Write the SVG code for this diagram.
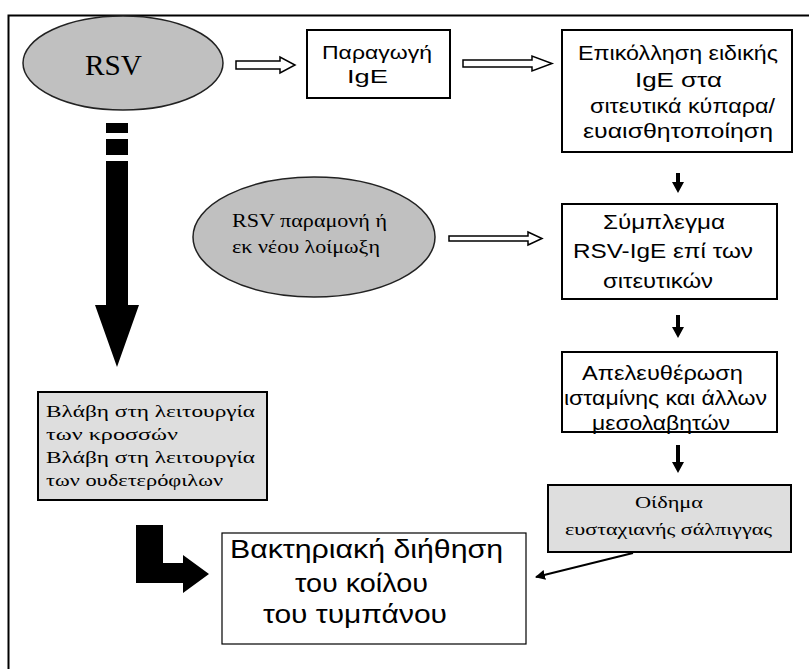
<svg xmlns="http://www.w3.org/2000/svg" width="809" height="669" viewBox="0 0 809 669">
<defs>
<style>
.box{fill:#fff;stroke:#000;stroke-width:2}
.gbox{fill:#dedede;stroke:#000;stroke-width:2}
.ell{fill:#c0c0c0;stroke:#222;stroke-width:1.5}
.hollow{fill:#fff;stroke:#000;stroke-width:1.5}
.solid{fill:#000;stroke:none}
.sans{font-family:"Liberation Sans",Arial,sans-serif;fill:#000}
.serif{font-family:"Liberation Serif","Times New Roman",serif;fill:#000}
</style>
<marker id="ah" viewBox="0 0 10 10" refX="9" refY="5" markerWidth="5" markerHeight="5" orient="auto" markerUnits="strokeWidth">
<path d="M0,0 L10,5 L0,10 z" fill="#000"/>
</marker>
</defs>
<rect width="809" height="669" fill="#fff"/>
<path d="M8.5,669 V15.5 H809" fill="none" stroke="#000" stroke-width="2"/>

<g id="node-rsv">
<ellipse class="ell" cx="123" cy="63" rx="100" ry="47"/>
<text class="serif" x="85" y="75" font-size="29" textLength="57" lengthAdjust="spacingAndGlyphs">RSV</text>
</g>

<g id="node-paragogi">
<rect class="box" x="307" y="30" width="143" height="68"/>
<text class="sans" x="322" y="59" font-size="19" textLength="110" lengthAdjust="spacingAndGlyphs">Παραγωγή</text>
<text class="sans" x="347" y="83" font-size="19" textLength="41" lengthAdjust="spacingAndGlyphs">IgE</text>
</g>

<g id="node-epikollisi">
<rect class="box" x="562" y="30" width="230" height="122"/>
<text class="sans" x="578" y="60" font-size="21" textLength="200" lengthAdjust="spacingAndGlyphs">Επικόλληση ειδικής</text>
<text class="sans" x="635" y="87" font-size="21" textLength="87" lengthAdjust="spacingAndGlyphs">IgE στα</text>
<text class="sans" x="590" y="113" font-size="21" textLength="185" lengthAdjust="spacingAndGlyphs">σιτευτικά κύπαρα/</text>
<text class="sans" x="583" y="138" font-size="21" textLength="190" lengthAdjust="spacingAndGlyphs">ευαισθητοποίηση</text>
</g>

<g id="node-rsv2">
<ellipse class="ell" cx="314" cy="237" rx="121" ry="60"/>
<text class="serif" x="232" y="227" font-size="18" textLength="155" lengthAdjust="spacingAndGlyphs">RSV παραμονή ή</text>
<text class="serif" x="232" y="253" font-size="18" textLength="148" lengthAdjust="spacingAndGlyphs">εκ νέου λοίμωξη</text>
</g>

<g id="node-symplegma">
<rect class="box" x="562" y="204" width="215" height="95"/>
<text class="sans" x="603" y="229" font-size="20" textLength="122" lengthAdjust="spacingAndGlyphs">Σύμπλεγμα</text>
<text class="sans" x="573" y="258" font-size="20" textLength="180" lengthAdjust="spacingAndGlyphs">RSV-IgE επί των</text>
<text class="sans" x="603" y="288" font-size="20" textLength="110" lengthAdjust="spacingAndGlyphs">σιτευτικών</text>
</g>

<g id="node-apeleftherosi">
<rect class="box" x="562" y="352" width="215" height="80"/>
<text class="sans" x="582" y="380" font-size="20" textLength="161" lengthAdjust="spacingAndGlyphs">Απελευθέρωση</text>
<text class="sans" x="564" y="405" font-size="20" textLength="203" lengthAdjust="spacingAndGlyphs">ισταμίνης και άλλων</text>
<text class="sans" x="592" y="430" font-size="20" textLength="138" lengthAdjust="spacingAndGlyphs">μεσολαβητών</text>
</g>

<g id="node-oidima">
<rect class="gbox" x="548" y="485" width="243" height="67"/>
<text class="serif" x="635" y="508" font-size="17" textLength="68" lengthAdjust="spacingAndGlyphs">Οίδημα</text>
<text class="serif" x="565" y="535" font-size="17" textLength="207" lengthAdjust="spacingAndGlyphs">ευσταχιανής σάλπιγγας</text>
</g>

<g id="node-vlavi">
<rect class="gbox" x="38" y="392" width="229" height="108"/>
<text class="serif" x="46" y="417" font-size="17" textLength="209" lengthAdjust="spacingAndGlyphs">Βλάβη στη λειτουργία</text>
<text class="serif" x="46" y="440" font-size="17" textLength="132" lengthAdjust="spacingAndGlyphs">των κροσσών</text>
<text class="serif" x="46" y="463" font-size="17" textLength="209" lengthAdjust="spacingAndGlyphs">Βλάβη στη λειτουργία</text>
<text class="serif" x="46" y="486" font-size="17" textLength="177" lengthAdjust="spacingAndGlyphs">των ουδετερόφιλων</text>
</g>

<g id="node-vaktiriaki">
<rect x="222" y="533" width="304" height="111" fill="#fff" stroke="#000" stroke-width="1.2"/>
<text class="sans" x="230" y="558" font-size="25" textLength="273" lengthAdjust="spacingAndGlyphs">Βακτηριακή διήθηση</text>
<text class="sans" x="295" y="592" font-size="25" textLength="133" lengthAdjust="spacingAndGlyphs">του κοίλου</text>
<text class="sans" x="263" y="623" font-size="25" textLength="184" lengthAdjust="spacingAndGlyphs">του τυμπάνου</text>
</g>

<g id="connectors">
<polygon class="hollow" points="236,61 280,61 280,57 295,65 280,73 280,69 236,69"/>
<polygon class="hollow" points="463,60 532,60 532,56 552,63.5 532,71 532,67 463,67"/>
<polygon class="hollow" points="449,236 528,236 528,232 542,238.5 528,245 528,241 449,241"/>
<polygon class="solid" points="676,173 680,173 680,182 684,182 678,193 672,182 676,182"/>
<polygon class="solid" points="676,315 680,315 680,327 684,327 678,338 672,327 676,327"/>
<polygon class="solid" points="676,445 680,445 680,462 684,462 678,473 672,462 676,462"/>
<line x1="633" y1="553" x2="536" y2="577" stroke="#000" stroke-width="2" marker-end="url(#ah)"/>
<rect class="solid" x="106" y="123" width="22" height="10"/>
<rect class="solid" x="106" y="139" width="22" height="16"/>
<polygon class="solid" points="106,161 128,161 128,305 139,305 117,367 95,305 106,305"/>
<polygon class="solid" points="136,525 163,525 163,563 183,563 183,555 209,574 183,593 183,583 136,583"/>
</g>
</svg>
